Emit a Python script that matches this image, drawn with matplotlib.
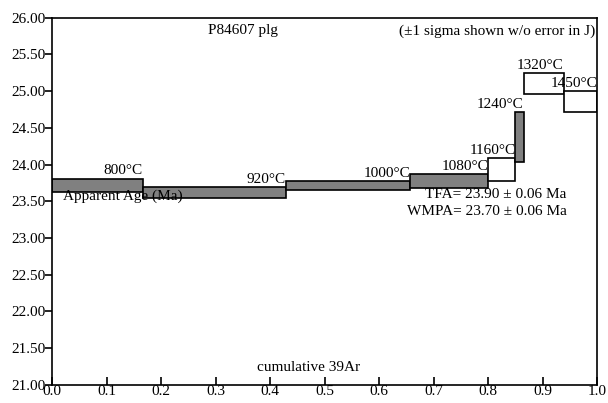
import matplotlib.pyplot as plt
from matplotlib.patches import Rectangle

plt.rcParams['font.family'] = ['Liberation Serif', 'DejaVu Serif']

# step heating data
temps = ['800°C', '920°C', '1000°C', '1080°C', '1160°C', '1240°C', '1320°C', '1450°C']
cum_39ar = [0.0, 0.166, 0.429, 0.657, 0.800, 0.850, 0.865, 0.939, 1.0]
age = [23.72, 23.625, 23.72, 23.775, 23.935, 24.375, 25.105, 24.855]
sigma = [0.09, 0.075, 0.06, 0.095, 0.155, 0.335, 0.145, 0.145]
plateau = [True, True, True, True, False, True, False, False]

fig = plt.figure(figsize=(6.08, 4.03), dpi=100)
ax = fig.add_axes([0.086, 0.045, 0.896, 0.911])

for i, t in enumerate(temps):
    x0, x1 = cum_39ar[i], cum_39ar[i + 1]
    lo, hi = age[i] - sigma[i], age[i] + sigma[i]
    fc = 'gray' if plateau[i] else 'white'
    ax.add_patch(Rectangle((x0, lo), x1 - x0, hi - lo, facecolor=fc,
                           edgecolor='black', linewidth=1.2, zorder=2))
    ax.text(x1, hi + 0.015, t, ha='right', va='bottom', fontsize=11, zorder=3)

ax.set_xlim(0, 1)
ax.set_ylim(21, 26)
ax.set_xticks([i / 10 for i in range(11)])
ax.set_yticks([21 + 0.5 * i for i in range(11)])
ax.set_xticklabels(['%.1f' % (i / 10) for i in range(11)], fontsize=11)
ax.set_yticklabels(['%.2f' % (21 + 0.5 * i) for i in range(11)], fontsize=11)
ax.tick_params(axis='x', direction='in', length=6, width=1.2, pad=0)
ax.tick_params(axis='y', direction='out', length=5, width=1.2, pad=0)
for s in ax.spines.values():
    s.set_linewidth(1.2)

ax.text(0.02, 23.57, 'Apparent Age (Ma)', ha='left', va='center', fontsize=11)
ax.text(0.35, 25.82, 'P84607 plg', ha='center', va='center', fontsize=11)
ax.text(0.996, 25.82, '(±1 sigma shown w/o error in J)', ha='right', va='center', fontsize=11)
ax.text(0.47, 21.23, 'cumulative 39Ar', ha='center', va='center', fontsize=11)
ax.text(0.944, 23.59, 'TFA= 23.90 ± 0.06 Ma', ha='right', va='center', fontsize=11)
ax.text(0.944, 23.36, 'WMPA= 23.70 ± 0.06 Ma', ha='right', va='center', fontsize=11)

fig.savefig('out.png', dpi=100)
